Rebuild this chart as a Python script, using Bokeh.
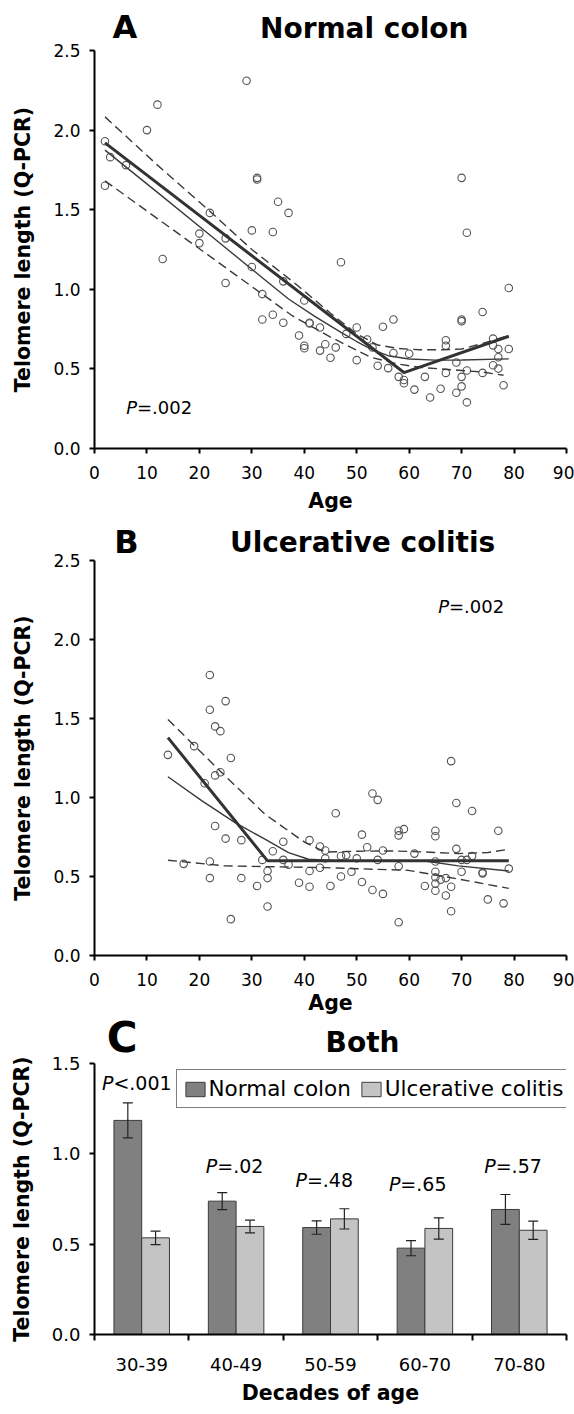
import numpy as np
from bokeh.plotting import figure
from bokeh.models import (Range1d, FixedTicker, NumeralTickFormatter, Label, Legend,
                          LegendItem, ColumnDataSource, Whisker, TeeHead)
from bokeh.layouts import column
from bokeh.embed import file_html
from bokeh.resources import INLINE

FONT = "DejaVu Sans"
W = 574

# ---------------- Panel A: Normal colon ----------------
normal_age = [2, 3, 2, 6, 10, 12, 13, 29, 31, 31, 22, 20, 20, 25, 25, 30, 34, 35, 37, 30,
              36, 32, 47, 32, 34, 36, 40, 41, 41, 43, 39, 40, 40, 43, 44, 45, 46, 48, 50, 50,
              52, 53, 54, 55, 57, 56, 57, 60, 58, 59, 59, 61, 63, 64, 66, 67, 67, 67, 69, 69,
              70, 70, 70, 70, 70, 71, 71, 71, 74, 74, 76, 76, 77, 77, 76, 77, 78, 79, 79]
normal_tl = [1.93, 1.83, 1.65, 1.78, 2.00, 2.16, 1.19, 2.31, 1.70, 1.69, 1.48, 1.35, 1.29, 1.32,
             1.04, 1.37, 1.36, 1.55, 1.48, 1.14, 1.05, 0.97, 1.17, 0.81, 0.84, 0.79, 0.93, 0.79,
             0.785, 0.76, 0.71, 0.645, 0.63, 0.615, 0.655, 0.57, 0.635, 0.72, 0.76, 0.555, 0.685,
             0.635, 0.52, 0.765, 0.81, 0.505, 0.60, 0.595, 0.45, 0.43, 0.41, 0.37, 0.45, 0.32,
             0.375, 0.68, 0.645, 0.475, 0.54, 0.35, 0.45, 0.39, 1.70, 0.81, 0.80, 1.355, 0.49,
             0.29, 0.857, 0.475, 0.69, 0.648, 0.625, 0.573, 0.523, 0.502, 0.397, 0.625, 1.008]
normal_piece_x = [2, 59, 79]
normal_piece_y = [1.92, 0.477, 0.705]
normal_smooth_x = [2, 12, 22, 32, 37, 42, 47, 50, 53, 56, 60, 65, 70, 79]
normal_smooth_y = [1.874, 1.609, 1.341, 1.073, 0.939, 0.83, 0.73, 0.672, 0.62, 0.583, 0.562,
                   0.555, 0.556, 0.563]
normal_upper_x = [2, 12, 22, 30, 38.5, 45, 50, 54, 58, 62, 66, 70, 74, 79]
normal_upper_y = [2.083, 1.78, 1.49, 1.25, 1.03, 0.85, 0.72, 0.65, 0.628, 0.62, 0.62, 0.625,
                  0.66, 0.71]
normal_lower_x = [2, 20, 37.7, 45, 52.7, 58, 62, 66, 70, 74, 78]
normal_lower_y = [1.681, 1.255, 0.834, 0.70, 0.573, 0.53, 0.51, 0.50, 0.49, 0.48, 0.46]

# ---------------- Panel B: Ulcerative colitis ----------------
uc_age = [14, 17, 19, 22, 22, 22, 22, 23, 24, 25, 26, 23, 24, 21, 23, 25, 28, 26, 28, 31,
          32, 33, 33, 33, 34, 36, 36, 37, 39, 41, 41, 41, 43, 43, 44, 44, 45, 46, 47, 47,
          48, 49, 50, 51, 51, 52, 53, 54, 54, 53, 55, 55, 58, 58, 59, 58, 58, 61, 63, 65,
          65, 65, 65, 65, 65, 65, 66, 67, 67, 68, 68, 68, 69, 69, 70, 70, 71, 72, 72, 74,
          74, 75, 77, 78, 79]
uc_tl = [1.27, 0.58, 1.325, 1.775, 1.555, 0.595, 0.49, 1.45, 1.42, 1.61, 1.25, 1.14, 1.16,
         1.09, 0.82, 0.74, 0.73, 0.23, 0.49, 0.44, 0.605, 0.535, 0.49, 0.31, 0.66, 0.72, 0.605,
         0.575, 0.46, 0.73, 0.535, 0.435, 0.69, 0.555, 0.665, 0.615, 0.44, 0.90, 0.63, 0.50,
         0.635, 0.53, 0.615, 0.765, 0.465, 0.685, 1.025, 0.985, 0.605, 0.415, 0.665, 0.39,
         0.79, 0.76, 0.80, 0.565, 0.21, 0.645, 0.44, 0.79, 0.755, 0.595, 0.53, 0.495, 0.455,
         0.41, 0.48, 0.49, 0.38, 1.23, 0.435, 0.28, 0.965, 0.675, 0.605, 0.53, 0.605, 0.915,
         0.63, 0.525, 0.52, 0.355, 0.79, 0.33, 0.55]
uc_piece_x = [14, 33, 79]
uc_piece_y = [1.379, 0.599, 0.599]
uc_smooth_x = [14, 20.5, 26.8, 32.5, 37, 40.8, 47, 63, 69.4, 79]
uc_smooth_y = [1.131, 0.979, 0.841, 0.736, 0.651, 0.609, 0.598, 0.598, 0.567, 0.535]
uc_upper_x = [14, 23.6, 32.5, 40.2, 44, 50, 56.7, 63, 69.4, 75, 79]
uc_upper_y = [1.494, 1.179, 0.894, 0.714, 0.655, 0.66, 0.662, 0.655, 0.645, 0.652, 0.672]
uc_lower_x = [14, 24.9, 44, 59.8, 66.2, 79]
uc_lower_y = [0.603, 0.567, 0.556, 0.539, 0.503, 0.425]

# ---------------- Panel C: Both ----------------
decades = ["30-39", "40-49", "50-59", "60-70", "70-80"]
normal_mean = [1.185, 0.738, 0.592, 0.478, 0.692]
normal_err = [0.097, 0.047, 0.037, 0.042, 0.083]
uc_mean = [0.535, 0.598, 0.640, 0.587, 0.577]
uc_err = [0.037, 0.035, 0.056, 0.059, 0.050]
p_texts = ["<.001", "=.02", "=.48", "=.65", "=.57"]

age_ticks = [0, 10, 20, 30, 40, 50, 60, 70, 80, 90]
tl_ticks_ab = [0.0, 0.5, 1.0, 1.5, 2.0, 2.5]
tl_ticks_c = [0.0, 0.5, 1.0, 1.5]

# annotation placement (not data)
p_label_dx = [0.20, 0.30, 0.25, 0.24, 0.25]
p_label_y = [1.393, 0.933, 0.855, 0.832, 0.934]

YLABEL = "Telomere length (Q-PCR)"


def clear_fills(p):
    p.xgrid.visible = False
    p.ygrid.visible = False
    p.outline_line_color = None
    p.background_fill_color = None
    p.border_fill_color = None


def style_axes(p, tick_size, xlab_standoff=7):
    for ax in (p.xaxis[0], p.yaxis[0]):
        ax.axis_line_width = 2
        ax.axis_line_color = "black"
        ax.major_tick_line_width = 2
        ax.major_tick_line_color = "black"
        ax.major_tick_out = 5
        ax.major_tick_in = 0
        ax.minor_tick_line_color = None
        ax.major_label_text_font = FONT
        ax.major_label_text_font_size = tick_size
        ax.major_label_text_color = "black"
        ax.axis_label_text_font = FONT
        ax.axis_label_text_font_style = "bold"
        ax.axis_label_text_font_size = "20.5px"
        ax.axis_label_text_color = "black"
    p.xaxis.major_label_standoff = 12
    p.yaxis.major_label_standoff = 9
    p.xaxis.axis_label_standoff = xlab_standoff
    p.yaxis.axis_label_standoff = 15
    clear_fills(p)


def add_text(p, text, x, y, size, style="normal", align="left"):
    lab = Label(x=x, y=y, x_units="data", y_units="data", text=text, text_font=FONT,
                text_font_size=size, text_font_style=style, text_align=align,
                text_baseline="middle", text_color="black")
    p.add_layout(lab)


def add_p(p, rest, x, y, size="18px"):
    add_text(p, "P", x, y, size, style="italic", align="right")
    add_text(p, rest, x, y, size, align="left")


def header(height, top_margin, letter, letter_size, letter_x, letter_y, title, title_x, title_y):
    # a strip above each panel holding the panel letter and the panel title
    h = figure(width=W, height=height, x_range=Range1d(0, W), y_range=Range1d(0, height),
               title=None, x_axis_location=None, y_axis_location=None, output_backend="svg",
               toolbar_location=None, min_border=0, min_border_left=0, min_border_right=0,
               min_border_top=0, min_border_bottom=0, margin=(top_margin, 0, 0, 0))
    clear_fills(h)
    add_text(h, letter, letter_x, height - letter_y, letter_size, style="bold")
    add_text(h, title, title_x, height - title_y, "28px", style="bold", align="center")
    return h


def scatter_panel(height, top_margin, bl, br, bt, bb, ages, tls, piece, smooth, upper, lower,
                  pxy, xlab_standoff):
    p = figure(width=W, height=height, x_range=Range1d(0, 90), y_range=Range1d(0, 2.5),
               output_backend="svg", toolbar_location=None, margin=(top_margin, 0, 0, 0),
               min_border_left=bl, min_border_right=br, min_border_top=bt, min_border_bottom=bb)
    style_axes(p, "17px", xlab_standoff)
    p.xaxis.ticker = FixedTicker(ticks=age_ticks)
    p.yaxis.ticker = FixedTicker(ticks=tl_ticks_ab)
    p.yaxis.formatter = NumeralTickFormatter(format="0.0")
    p.xaxis.axis_label = "Age"
    p.yaxis.axis_label = YLABEL

    p.scatter(ages, tls, marker="circle", size=7.5, fill_color=None,
              line_color="#555555", line_width=1.1)
    p.line(upper[0], upper[1], line_color="#3a3a3a", line_width=1.4, line_dash="9 5")
    p.line(lower[0], lower[1], line_color="#3a3a3a", line_width=1.4, line_dash="9 5")
    p.line(smooth[0], smooth[1], line_color="#3a3a3a", line_width=1.4)
    p.line(piece[0], piece[1], line_color="#333333", line_width=3)
    add_p(p, "=.002", pxy[0], pxy[1])
    return p


# page rows: hA 0-46, pA 38-520, hB 518-562, pB 549-1019, hC 1011-1062, pC 1051-1412
hA = header(46, 0, "A", "32px", 22, 26.5, "Normal colon", 328, 27.5)
pA = scatter_panel(482, -8, 93, 2, 12, 72, normal_age, normal_tl,
                   (normal_piece_x, normal_piece_y), (normal_smooth_x, normal_smooth_y),
                   (normal_upper_x, normal_upper_y), (normal_lower_x, normal_lower_y),
                   (8.1, 0.257), 7)

hB = header(44, -2, "B", "32px", 24, 23.5, "Ulcerative colitis", 326, 23.5)
pB = scatter_panel(470, -13, 92, 8, 11, 64, uc_age, uc_tl,
                   (uc_piece_x, uc_piece_y), (uc_smooth_x, uc_smooth_y),
                   (uc_upper_x, uc_upper_y), (uc_lower_x, uc_lower_y),
                   (67.6, 2.208), 2)

hC = header(51, -8, "C", "42px", 15, 25.5, "Both", 326, 30.5)

# ---------------- Panel C ----------------
n = len(decades)
centers = np.arange(n) + 0.5
bar_w = 0.294
src_n = ColumnDataSource(dict(x=centers - bar_w / 2, top=normal_mean,
                              upper=np.array(normal_mean) + np.array(normal_err),
                              lower=np.array(normal_mean) - np.array(normal_err)))
src_u = ColumnDataSource(dict(x=centers + bar_w / 2, top=uc_mean,
                              upper=np.array(uc_mean) + np.array(uc_err),
                              lower=np.array(uc_mean) - np.array(uc_err)))

pC = figure(width=W, height=361, x_range=Range1d(0, n), y_range=Range1d(0, 1.5),
            output_backend="svg", toolbar_location=None, margin=(-11, 0, 0, 0),
            min_border_left=94, min_border_right=5, min_border_top=12, min_border_bottom=78)
style_axes(pC, "18px", 7)
pC.xaxis.ticker = FixedTicker(ticks=list(centers), minor_ticks=list(range(n + 1)))
pC.xaxis.major_label_overrides = {float(c): d for c, d in zip(centers, decades)}
pC.xaxis.major_tick_out = 0
pC.xaxis.major_label_standoff = 17
pC.xaxis.minor_tick_out = 6
pC.xaxis.minor_tick_in = 0
pC.xaxis.minor_tick_line_color = "black"
pC.xaxis.minor_tick_line_width = 2
pC.yaxis.ticker = FixedTicker(ticks=tl_ticks_c)
pC.yaxis.formatter = NumeralTickFormatter(format="0.0")
pC.xaxis.axis_label = "Decades of age"
pC.yaxis.axis_label = YLABEL

rn = pC.vbar(x="x", top="top", width=bar_w, bottom=0, source=src_n,
             fill_color="#808080", line_color="#3c3c3c", line_width=1)
ru = pC.vbar(x="x", top="top", width=bar_w, bottom=0, source=src_u,
             fill_color="#c4c4c4", line_color="#3c3c3c", line_width=1)
for s in (src_n, src_u):
    w = Whisker(source=s, base="x", upper="upper", lower="lower", dimension="height",
                line_color="#222222", line_width=1.2, level="annotation",
                upper_head=TeeHead(size=10, line_color="#222222", line_width=1.2),
                lower_head=TeeHead(size=10, line_color="#222222", line_width=1.2))
    pC.add_layout(w)

for i, txt in enumerate(p_texts):
    add_p(pC, txt, i + p_label_dx[i], p_label_y[i], "19px")

legend = Legend(items=[LegendItem(label="Normal colon", renderers=[rn]),
                       LegendItem(label="Ulcerative colitis", renderers=[ru])],
                orientation="horizontal", location=(81.5, 226), margin=0, padding=6,
                glyph_width=24, glyph_height=18, label_standoff=2, spacing=8,
                label_text_font=FONT, label_text_font_size="21.5px", label_text_color="black",
                border_line_color="black", border_line_width=1.5,
                background_fill_color="white", background_fill_alpha=1.0)
pC.add_layout(legend)

layout = column(hA, pA, hB, pB, hC, pC, spacing=0)
open("out.html", "w").write(file_html(layout, INLINE))
